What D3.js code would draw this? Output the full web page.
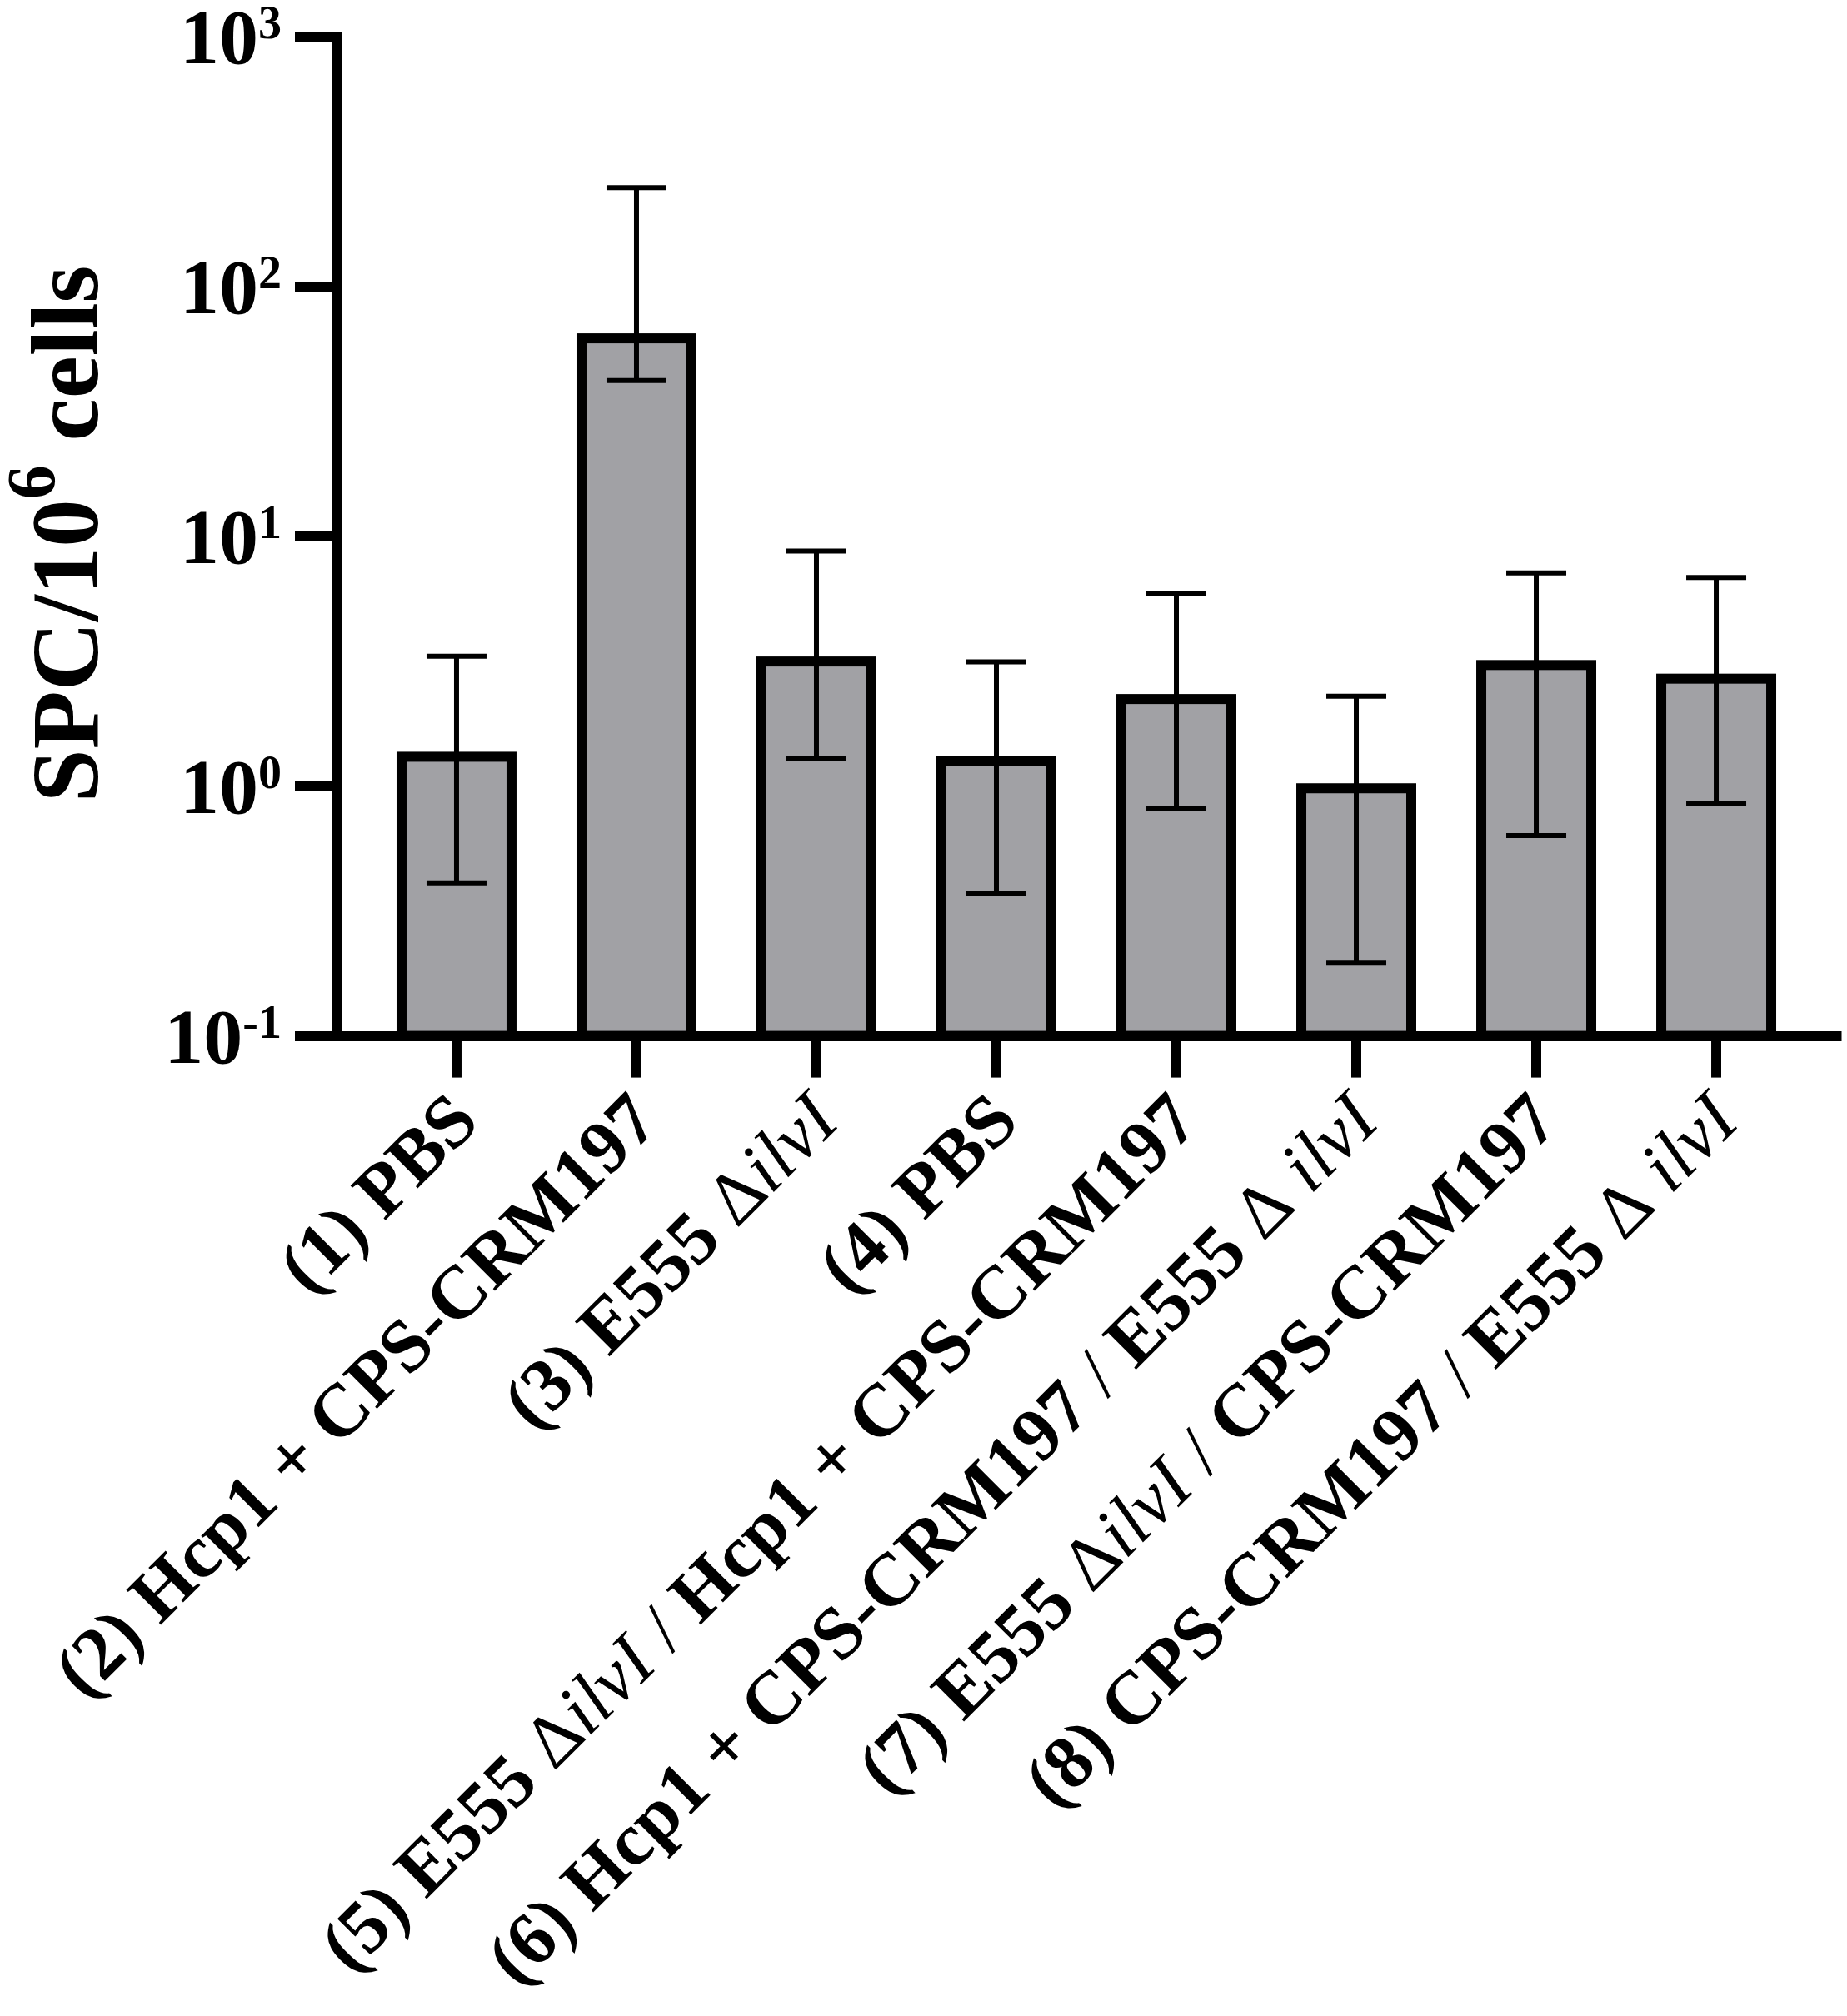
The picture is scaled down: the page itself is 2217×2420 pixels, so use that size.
<!DOCTYPE html>
<html>
<head>
<meta charset="utf-8">
<script src="https://cdn.jsdelivr.net/npm/d3@7.9.0/dist/d3.min.js"></script>
<style>
  body { margin: 0; background: #fff; }
  text { font-family: "Liberation Serif", "Times New Roman", Times, serif; fill: #000; }
</style>
</head>
<body>
<div id="chart"></div>
<script>
// groups on the x axis
const groups = [
  "(1) PBS",
  "(2) Hcp1 + CPS-CRM197",
  "(3) E555 ΔilvI",
  "(4) PBS",
  "(5) E555 ΔilvI / Hcp1 + CPS-CRM197",
  "(6) Hcp1 + CPS-CRM197 / E555 Δ ilvI",
  "(7) E555 ΔilvI / CPS-CRM197",
  "(8) CPS-CRM197 / E555 Δ ilvI"
];
// bar heights (SPC per 10^6 cells) and error bar ends
const means   = [1.31, 61.9, 3.15, 1.26, 2.23, 0.98, 3.05, 2.69];
const errHigh = [3.31, 248, 8.71, 3.14, 5.90, 2.29, 7.13, 6.83];
const errLow  = [0.41, 42.0, 1.29, 0.372, 0.81, 0.197, 0.634, 0.851];
// log axis ticks (exponent labels)
const yTicks = [0.1, 1, 10, 100, 1000];
const yExps  = ["-1", "0", "1", "2", "3"];

const W = 2217, H = 2420;
const plotLeft = 404, plotRight = 2204, plotTop = 43.6, plotBottom = 1243.6;

const svg = d3.select("#chart").append("svg")
    .attr("width", W)
    .attr("height", H);

svg.append("rect").attr("width", W).attr("height", H).attr("fill", "#fff");

let x = d3.scaleBand()
    .domain(groups)
    .range([plotLeft, plotRight])
    .paddingInner(0.389)
    .paddingOuter(0.361);

let y = d3.scaleLog()
    .domain([0.1, 1000])
    .range([plotBottom, plotTop]);

const data = groups.map((g, i) => ({ g, m: means[i], hi: errHigh[i], lo: errLow[i] }));

// bars
svg.append("g").selectAll("rect").data(data).join("rect")
    .attr("x", d => x(d.g))
    .attr("y", d => y(d.m))
    .attr("width", x.bandwidth())
    .attr("height", d => plotBottom - y(d.m))
    .attr("fill", "#a1a1a5")
    .attr("stroke", "#000")
    .attr("stroke-width", 12);

// error bars
const cx = d => x(d.g) + x.bandwidth() / 2;
const eb = svg.append("g").attr("stroke", "#000").attr("stroke-width", 6);
eb.selectAll(".stem").data(data).join("line")
    .attr("x1", cx).attr("x2", cx)
    .attr("y1", d => y(d.hi)).attr("y2", d => y(d.lo));
eb.selectAll(".capHi").data(data).join("line")
    .attr("x1", d => cx(d) - 36).attr("x2", d => cx(d) + 36)
    .attr("y1", d => y(d.hi)).attr("y2", d => y(d.hi));
eb.selectAll(".capLo").data(data).join("line")
    .attr("x1", d => cx(d) - 36).attr("x2", d => cx(d) + 36)
    .attr("y1", d => y(d.lo)).attr("y2", d => y(d.lo));

// y axis
let yAxis = svg.append("g")
    .attr("transform", `translate(${plotLeft},0)`)
    .call(d3.axisLeft(y).tickValues(yTicks).tickSize(50).tickSizeOuter(0).tickPadding(16).tickFormat(() => ""));

yAxis.select(".domain").attr("stroke-width", 12).attr("stroke-linecap", "square");
yAxis.selectAll(".tick line").attr("stroke-width", 12);

yAxis.selectAll(".tick text")
    .attr("dy", null)
    .attr("y", 32)
    .attr("font-size", 94)
    .attr("font-weight", "bold")
    .each(function(d, i) {
        let t = d3.select(this);
        t.text(null);
        t.append("tspan").text("10");
        t.append("tspan").attr("font-size", 56).attr("dy", -30).text(yExps[i]);
    });

// x axis
let xAxis = svg.append("g")
    .attr("transform", `translate(0,${plotBottom})`)
    .call(d3.axisBottom(x).tickSize(50).tickSizeOuter(0).tickFormat(() => ""));

xAxis.select(".domain").attr("stroke-width", 12).attr("stroke-linecap", "square");
xAxis.selectAll(".tick line").attr("stroke-width", 12);
xAxis.selectAll(".tick text").remove();

// rotated group labels, mixed bold / italic pieces
svg.append("g").selectAll("text").data(groups).join("text")
    .attr("transform", d => `translate(${x(d) + x.bandwidth() / 2 + 30},${plotBottom + 106}) rotate(-45)`)
    .attr("text-anchor", "end")
    .attr("font-size", 90)
    .attr("font-weight", "bold")
    .each(function(d) {
        let t = d3.select(this);
        d.split(/(Δ|ilvI|\/)/).filter(s => s.length).forEach(s => {
            let sp = t.append("tspan").text(s);
            if (s === "ilvI") sp.attr("font-style", "italic").attr("font-weight", "normal");
            else if (s === "Δ" || s === "/") sp.attr("font-weight", "normal");
        });
    });

// y axis title
let yTitle = svg.append("text")
    .attr("transform", `translate(117,641) rotate(-90)`)
    .attr("text-anchor", "middle")
    .attr("font-size", 115)
    .attr("font-weight", "bold");
yTitle.append("tspan").text("SPC/10");
yTitle.append("tspan").attr("font-size", 82).attr("dy", -52).text("6");
yTitle.append("tspan").attr("dy", 52).text(" cells");
</script>
</body>
</html>
